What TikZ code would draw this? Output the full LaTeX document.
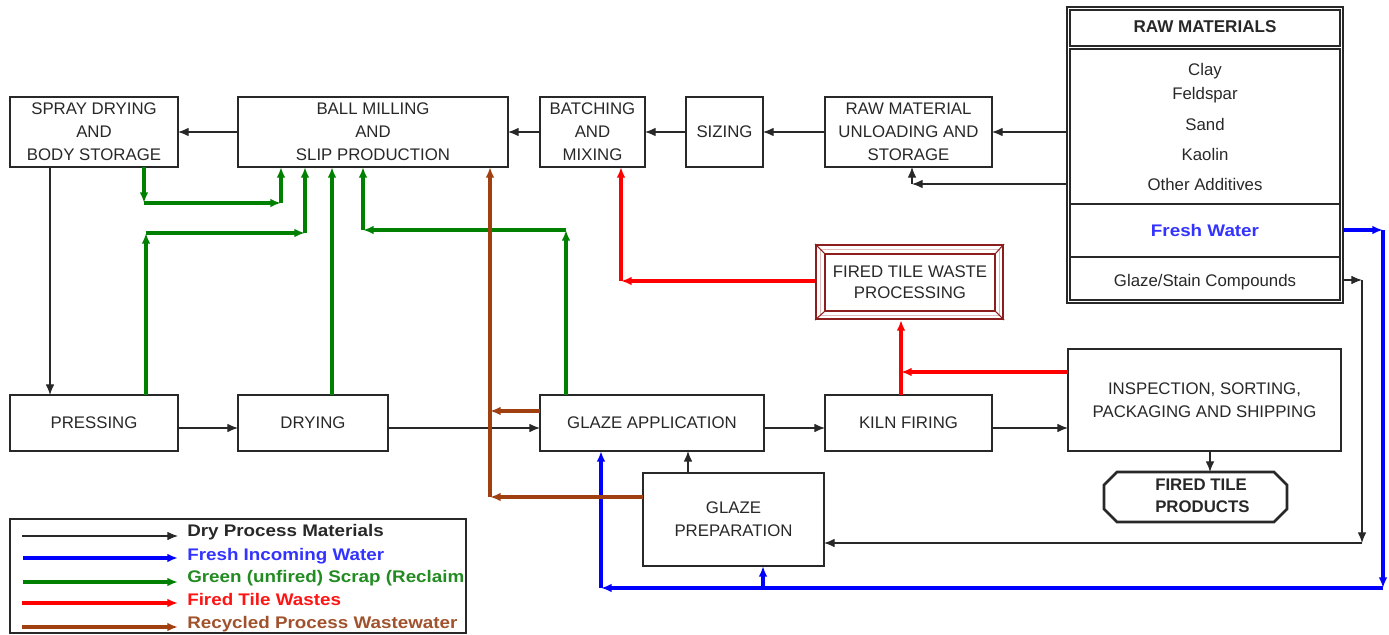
\documentclass[tikz,border=0pt]{standalone}
\usepackage{fontspec}
\setmainfont{Liberation Sans}
\usepackage{graphicx}
\usetikzlibrary{arrows.meta,calc}
\definecolor{cgreen}{RGB}{0,128,0}
\definecolor{cblue}{RGB}{0,0,255}
\definecolor{cred}{RGB}{255,0,0}
\definecolor{cbrown}{RGB}{160,64,16}
\definecolor{tblue}{RGB}{51,51,255}
\definecolor{tgreen}{RGB}{34,139,34}
\definecolor{tred}{RGB}{255,20,20}
\definecolor{tbrown}{RGB}{160,82,45}
\definecolor{framered}{RGB}{140,30,30}
\definecolor{ink}{RGB}{40,40,40}
\newcommand{\bxfont}{\fontsize{12.6}{17.25}\selectfont}
\newcommand{\lgdtext}[1]{\scalebox{1.12}[1]{#1}}
\begin{document}
\begin{tikzpicture}[x=0.75pt,y=-0.75pt,
 rect/.style n args={4}{at={({(#1+#3)/2},{(#2+#4)/2})},
   minimum width={(#3-#1)*0.75pt}, minimum height={(#4-#2)*0.75pt}},
 box/.style={draw=ink, line width=1.2pt, inner sep=0pt, outer sep=0pt, align=center, font=\bxfont, text=ink},
 blk/.style={draw=ink, line width=0.95pt, -{Latex[length=8pt,width=6.5pt]}},
 col/.style={line width=2.3pt, -{Latex[length=8pt,width=6.5pt]}},
 grn/.style={col, cgreen},
 blu/.style={col, cblue},
 rd/.style={col, cred},
 brn/.style={col, cbrown},
 txt/.style={inner sep=0pt, anchor=base, font=\bxfont, text=ink},
 lgd/.style={anchor=base west, inner sep=0pt, font=\fontsize{12.6}{14}\selectfont\bfseries},
]
\useasboundingbox (0,0) rectangle (1389,635);

% ---- top row
\node[box, rect={10}{97}{178}{167}] (spray) {SPRAY DRYING\\AND\\BODY STORAGE};
\node[box, rect={238}{97}{508}{167}] (ball) {BALL MILLING\\AND\\SLIP PRODUCTION};
\node[box, rect={540}{97}{645}{167}] (batch) {BATCHING\\AND\\MIXING};
\node[box, rect={686}{97}{763}{167}] (sizing) {SIZING};
\node[box, rect={825}{97}{992}{167}] (unload) {RAW MATERIAL\\UNLOADING AND\\STORAGE};

% ---- raw materials block
\node[box, line width=0.9pt, rect={1067}{7}{1343}{303}] (rawframe) {};
\node[box, line width=0.9pt, rect={1070}{10}{1340}{46}] (rawtitle) {};
\node[box, line width=0.9pt, rect={1070}{49}{1340}{204}] (rawbody) {};
\node[box, line width=0.9pt, rect={1070}{204}{1340}{257}] (rawwater) {};
\node[box, line width=0.9pt, rect={1070}{257}{1340}{300}] (rawglaze) {};
\node[txt, font=\fontsize{12.8}{14}\selectfont\bfseries] (rawhead) at (1205,33) {RAW MATERIALS};
\node[txt] (clay) at (1205,75) {Clay};
\node[txt] (feld) at (1205,99) {Feldspar};
\node[txt] (sand) at (1205,130) {Sand};
\node[txt] (kaolin) at (1205,161) {Kaolin};
\node[txt] (other) at (1205,190) {Other Additives};
\node[txt, text=tblue, font=\bxfont\bfseries] (fresh) at (1205,236) {\lgdtext{Fresh Water}};
\node[txt] (gstain) at (1205,286) {Glaze/Stain Compounds};

% ---- fired tile waste processing
\node[draw=framered, line width=1.5pt, inner sep=0pt, rect={816}{245}{1003}{319}] (ftw) {};
\draw[framered!30, line width=0.7pt] (820,249) rectangle (999,315);
\node[draw=framered, line width=1.1pt, inner sep=0pt, rect={825}{254}{995}{311}, align=center, font=\fontsize{12.6}{15.75}\selectfont, text=ink] (ftwin) {FIRED TILE WASTE\\PROCESSING};
\draw[framered, line width=0.8pt] (ftw.north west) -- (ftwin.north west);
\draw[framered, line width=0.8pt] (ftw.north east) -- (ftwin.north east);
\draw[framered, line width=0.8pt] (ftw.south west) -- (ftwin.south west);
\draw[framered, line width=0.8pt] (ftw.south east) -- (ftwin.south east);

% ---- bottom row
\node[box, rect={10}{395}{178}{451}] (press) {PRESSING};
\node[box, rect={238}{395}{388}{451}] (dry) {DRYING};
\node[box, rect={540}{395}{764}{451}] (gapp) {GLAZE APPLICATION};
\node[box, rect={825}{395}{992}{451}] (kiln) {KILN FIRING};
\node[box, rect={1068}{349}{1341}{451}] (insp) {INSPECTION, SORTING,\\PACKAGING AND SHIPPING};
\node[box, rect={643}{473}{824}{566}] (gprep) {GLAZE\\PREPARATION};

% ---- fired tile products (octagon)
\node[inner sep=0pt, outer sep=0pt, rect={1104}{472}{1287}{522}] (ftp) {};
\draw[ink, line width=1.9pt, line join=miter]
 ($(ftp.north west)+(13,0)$) -- ($(ftp.north east)+(-13,0)$) -- ($(ftp.north east)+(0,13)$)
 -- ($(ftp.south east)+(0,-13)$) -- ($(ftp.south east)+(-13,0)$) -- ($(ftp.south west)+(13,0)$)
 -- ($(ftp.south west)+(0,-13)$) -- ($(ftp.north west)+(0,13)$) -- cycle;
\node[inner sep=0pt, anchor=west, align=left, font=\fontsize{12.6}{16.5}\selectfont\bfseries, text=ink] (ftptext) at (1155,496) {FIRED TILE\\PRODUCTS};

% ---- black connectors
\draw[blk] (ball.west) -- (spray.east);
\draw[blk] (batch.west) -- (ball.east);
\draw[blk] (sizing.west) -- (batch.east);
\draw[blk] (unload.west) -- (sizing.east);
\draw[blk] (rawframe.west |- unload.east) -- (unload.east);
\coordinate (oa) at (912,184);
\draw[blk] (rawframe.west |- oa) -- (oa);
\draw[blk] (oa) -- (unload.south -| oa);
\coordinate (sp) at (50,300);
\draw[blk] (spray.south -| sp) -- (press.north -| sp);
\coordinate (rowB) at (0,428);
\draw[blk] (press.east |- rowB) -- (dry.west |- rowB);
\draw[blk] (dry.east |- rowB) -- (gapp.west |- rowB);
\draw[blk] (gapp.east |- rowB) -- (kiln.west |- rowB);
\draw[blk] (kiln.east |- rowB) -- (insp.west |- rowB);
\coordinate (fx) at (1210,460);
\draw[blk] (insp.south -| fx) -- (ftp.north -| fx);
\coordinate (gx) at (688,460);
\draw[blk] (gprep.north -| gx) -- (gapp.south -| gx);
\coordinate (gs1) at (1362,280);
\coordinate (gs2) at (1362,543);
\draw[blk] (rawframe.east |- gs1) -- (gs1);
\draw[blk] (gs1) -- (gs2);
\draw[blk] (gs2) -- (gprep.east |- gs2);

% ---- blue (fresh water)
\coordinate (b1) at (1383,230);
\coordinate (b2) at (1383,588);
\coordinate (b3) at (601,588);
\coordinate (b4) at (763,588);
\draw[blu] (rawframe.east |- b1) -- (b1);
\draw[blu] (b1) -- (b2);
\draw[blu] (b2) -- (b3);
\draw[blu] (b3) -- (gapp.south -| b3);
\draw[blu] (b4) -- (gprep.south -| b4);

% ---- green (unfired scrap)
\coordinate (g1a) at (144,203);
\coordinate (g1b) at (281,203);
\draw[grn] (spray.south -| g1a) -- (g1a);
\draw[grn] (g1a) -- (g1b);
\draw[grn] (g1b) -- (ball.south -| g1b);
\coordinate (g2a) at (146,233);
\coordinate (g2b) at (305,233);
\draw[grn] (press.north -| g2a) -- (g2a);
\draw[grn] (g2a) -- (g2b);
\draw[grn] (g2b) -- (ball.south -| g2b);
\coordinate (g3) at (332,300);
\draw[grn] (dry.north -| g3) -- (ball.south -| g3);
\coordinate (g4a) at (566,230);
\coordinate (g4b) at (363,230);
\draw[grn] (gapp.north -| g4a) -- (g4a);
\draw[grn] (g4a) -- (g4b);
\draw[grn] (g4b) -- (ball.south -| g4b);

% ---- red (fired tile wastes)
\coordinate (r1) at (621,281);
\draw[rd] (ftw.west |- r1) -- (r1);
\draw[rd] (r1) -- (batch.south -| r1);
\coordinate (r2) at (901,372);
\draw[rd] (insp.west |- r2) -- (r2);
\draw[rd] (kiln.north -| r2) -- (ftw.south -| r2);

% ---- brown (recycled wastewater)
\coordinate (w1) at (490,411);
\coordinate (w2) at (490,497);
\draw[brn] (gapp.west |- w1) -- (w1);
\draw[brn] (gprep.west |- w2) -- (w2);
\draw[brn] (w2) -- (ball.south -| w2);

% ---- legend
\node[box, rect={10}{519}{466}{633}] (legend) {};
\coordinate (la1) at (22,536);  \coordinate (lb1) at (178,536);
\coordinate (la2) at (23,558);  \coordinate (lb2) at (178,558);
\coordinate (la3) at (23,582);  \coordinate (lb3) at (178,582);
\coordinate (la4) at (22,603);  \coordinate (lb4) at (178,603);
\coordinate (la5) at (22,627);  \coordinate (lb5) at (178,627);
\draw[blk] (la1) -- (lb1);
\draw[blu] (la2) -- (lb2);
\draw[grn] (la3) -- (lb3);
\draw[rd] (la4) -- (lb4);
\draw[brn] (la5) -- (lb5);
\begin{scope}
\clip (legend.south west) rectangle (legend.north east);
\node[lgd, text=ink] (lt1) at (187,536) {\lgdtext{Dry Process Materials}};
\node[lgd, text=tblue] (lt2) at (187,560) {\lgdtext{Fresh Incoming Water}};
\node[lgd, text=tgreen] (lt3) at (187,582) {\lgdtext{Green (unfired) Scrap (Reclaim}};
\node[lgd, text=tred] (lt4) at (187,605) {\lgdtext{Fired Tile Wastes}};
\node[lgd, text=tbrown] (lt5) at (187,628) {\lgdtext{Recycled Process Wastewater}};
\end{scope}
\end{tikzpicture}
\end{document}
